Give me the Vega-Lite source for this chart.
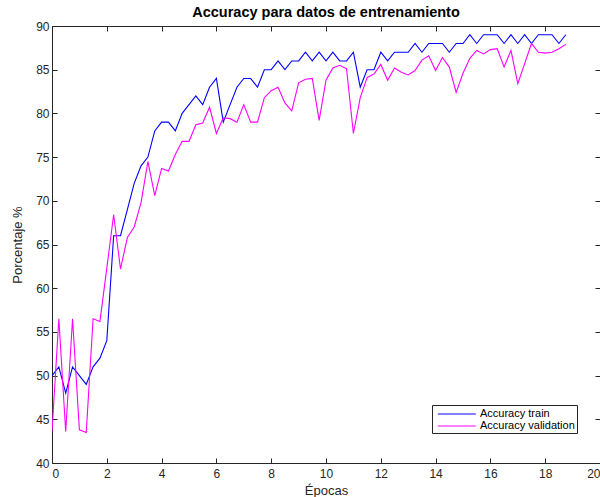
{
  "$schema": "https://vega.github.io/schema/vega-lite/v6.json",
  "width": 548,
  "height": 437,
  "autosize": "none",
  "padding": {"left": 52, "top": 26, "right": 0, "bottom": 34},
  "background": "white",
  "title": {"text": "Accuracy para datos de entrenamiento", "font": "Liberation Sans", "fontSize": 14.5, "fontWeight": "bold", "color": "black", "anchor": "middle", "offset": 0},
  "config": {
    "view": {"stroke": null},
    "axis": {"grid": false, "labelFont": "Liberation Sans", "labelFontSize": 12, "labelColor": "#262626", "titleFont": "Liberation Sans", "titleFontSize": 13, "titleFontWeight": "normal", "titleColor": "#262626", "domainColor": "#262626", "tickColor": "#262626", "tickSize": -5, "domainWidth": 1}
  },
  "data": {"values": [
    {"epoca": 0, "serie": "Accuracy train", "valor": 50},
    {"epoca": 0.25, "serie": "Accuracy train", "valor": 51},
    {"epoca": 0.5, "serie": "Accuracy train", "valor": 48},
    {"epoca": 0.75, "serie": "Accuracy train", "valor": 51},
    {"epoca": 1, "serie": "Accuracy train", "valor": 50},
    {"epoca": 1.25, "serie": "Accuracy train", "valor": 49},
    {"epoca": 1.5, "serie": "Accuracy train", "valor": 51},
    {"epoca": 1.75, "serie": "Accuracy train", "valor": 52},
    {"epoca": 2, "serie": "Accuracy train", "valor": 54},
    {"epoca": 2.25, "serie": "Accuracy train", "valor": 66},
    {"epoca": 2.5, "serie": "Accuracy train", "valor": 66},
    {"epoca": 2.75, "serie": "Accuracy train", "valor": 69},
    {"epoca": 3, "serie": "Accuracy train", "valor": 72},
    {"epoca": 3.25, "serie": "Accuracy train", "valor": 74},
    {"epoca": 3.5, "serie": "Accuracy train", "valor": 75},
    {"epoca": 3.75, "serie": "Accuracy train", "valor": 78},
    {"epoca": 4, "serie": "Accuracy train", "valor": 79},
    {"epoca": 4.25, "serie": "Accuracy train", "valor": 79},
    {"epoca": 4.5, "serie": "Accuracy train", "valor": 78},
    {"epoca": 4.75, "serie": "Accuracy train", "valor": 80},
    {"epoca": 5, "serie": "Accuracy train", "valor": 81},
    {"epoca": 5.25, "serie": "Accuracy train", "valor": 82},
    {"epoca": 5.5, "serie": "Accuracy train", "valor": 81},
    {"epoca": 5.75, "serie": "Accuracy train", "valor": 83},
    {"epoca": 6, "serie": "Accuracy train", "valor": 84},
    {"epoca": 6.25, "serie": "Accuracy train", "valor": 79},
    {"epoca": 6.5, "serie": "Accuracy train", "valor": 81},
    {"epoca": 6.75, "serie": "Accuracy train", "valor": 83},
    {"epoca": 7, "serie": "Accuracy train", "valor": 84},
    {"epoca": 7.25, "serie": "Accuracy train", "valor": 84},
    {"epoca": 7.5, "serie": "Accuracy train", "valor": 83},
    {"epoca": 7.75, "serie": "Accuracy train", "valor": 85},
    {"epoca": 8, "serie": "Accuracy train", "valor": 85},
    {"epoca": 8.25, "serie": "Accuracy train", "valor": 86},
    {"epoca": 8.5, "serie": "Accuracy train", "valor": 85},
    {"epoca": 8.75, "serie": "Accuracy train", "valor": 86},
    {"epoca": 9, "serie": "Accuracy train", "valor": 86},
    {"epoca": 9.25, "serie": "Accuracy train", "valor": 87},
    {"epoca": 9.5, "serie": "Accuracy train", "valor": 86},
    {"epoca": 9.75, "serie": "Accuracy train", "valor": 87},
    {"epoca": 10, "serie": "Accuracy train", "valor": 86},
    {"epoca": 10.25, "serie": "Accuracy train", "valor": 87},
    {"epoca": 10.5, "serie": "Accuracy train", "valor": 86},
    {"epoca": 10.75, "serie": "Accuracy train", "valor": 86},
    {"epoca": 11, "serie": "Accuracy train", "valor": 87},
    {"epoca": 11.25, "serie": "Accuracy train", "valor": 83},
    {"epoca": 11.5, "serie": "Accuracy train", "valor": 85},
    {"epoca": 11.75, "serie": "Accuracy train", "valor": 85},
    {"epoca": 12, "serie": "Accuracy train", "valor": 87},
    {"epoca": 12.25, "serie": "Accuracy train", "valor": 86},
    {"epoca": 12.5, "serie": "Accuracy train", "valor": 87},
    {"epoca": 12.75, "serie": "Accuracy train", "valor": 87},
    {"epoca": 13, "serie": "Accuracy train", "valor": 87},
    {"epoca": 13.25, "serie": "Accuracy train", "valor": 88},
    {"epoca": 13.5, "serie": "Accuracy train", "valor": 87},
    {"epoca": 13.75, "serie": "Accuracy train", "valor": 88},
    {"epoca": 14, "serie": "Accuracy train", "valor": 88},
    {"epoca": 14.25, "serie": "Accuracy train", "valor": 88},
    {"epoca": 14.5, "serie": "Accuracy train", "valor": 87},
    {"epoca": 14.75, "serie": "Accuracy train", "valor": 88},
    {"epoca": 15, "serie": "Accuracy train", "valor": 88},
    {"epoca": 15.25, "serie": "Accuracy train", "valor": 89},
    {"epoca": 15.5, "serie": "Accuracy train", "valor": 88},
    {"epoca": 15.75, "serie": "Accuracy train", "valor": 89},
    {"epoca": 16, "serie": "Accuracy train", "valor": 89},
    {"epoca": 16.25, "serie": "Accuracy train", "valor": 89},
    {"epoca": 16.5, "serie": "Accuracy train", "valor": 88},
    {"epoca": 16.75, "serie": "Accuracy train", "valor": 89},
    {"epoca": 17, "serie": "Accuracy train", "valor": 88},
    {"epoca": 17.25, "serie": "Accuracy train", "valor": 89},
    {"epoca": 17.5, "serie": "Accuracy train", "valor": 88},
    {"epoca": 17.75, "serie": "Accuracy train", "valor": 89},
    {"epoca": 18, "serie": "Accuracy train", "valor": 89},
    {"epoca": 18.25, "serie": "Accuracy train", "valor": 89},
    {"epoca": 18.5, "serie": "Accuracy train", "valor": 88},
    {"epoca": 18.75, "serie": "Accuracy train", "valor": 89},
    {"epoca": 0, "serie": "Accuracy validation", "valor": 43.6},
    {"epoca": 0.25, "serie": "Accuracy validation", "valor": 56.5},
    {"epoca": 0.5, "serie": "Accuracy validation", "valor": 43.6},
    {"epoca": 0.75, "serie": "Accuracy validation", "valor": 56.5},
    {"epoca": 1, "serie": "Accuracy validation", "valor": 43.8},
    {"epoca": 1.25, "serie": "Accuracy validation", "valor": 43.5},
    {"epoca": 1.5, "serie": "Accuracy validation", "valor": 56.5},
    {"epoca": 1.75, "serie": "Accuracy validation", "valor": 56.2},
    {"epoca": 2, "serie": "Accuracy validation", "valor": 62.3},
    {"epoca": 2.25, "serie": "Accuracy validation", "valor": 68.4},
    {"epoca": 2.5, "serie": "Accuracy validation", "valor": 62.2},
    {"epoca": 2.75, "serie": "Accuracy validation", "valor": 65.8},
    {"epoca": 3, "serie": "Accuracy validation", "valor": 67.0},
    {"epoca": 3.25, "serie": "Accuracy validation", "valor": 69.8},
    {"epoca": 3.5, "serie": "Accuracy validation", "valor": 74.5},
    {"epoca": 3.75, "serie": "Accuracy validation", "valor": 70.6},
    {"epoca": 4, "serie": "Accuracy validation", "valor": 73.7},
    {"epoca": 4.25, "serie": "Accuracy validation", "valor": 73.4},
    {"epoca": 4.5, "serie": "Accuracy validation", "valor": 75.3},
    {"epoca": 4.75, "serie": "Accuracy validation", "valor": 76.8},
    {"epoca": 5, "serie": "Accuracy validation", "valor": 76.8},
    {"epoca": 5.25, "serie": "Accuracy validation", "valor": 78.7},
    {"epoca": 5.5, "serie": "Accuracy validation", "valor": 78.9},
    {"epoca": 5.75, "serie": "Accuracy validation", "valor": 80.7},
    {"epoca": 6, "serie": "Accuracy validation", "valor": 77.7},
    {"epoca": 6.25, "serie": "Accuracy validation", "valor": 79.5},
    {"epoca": 6.5, "serie": "Accuracy validation", "valor": 79.4},
    {"epoca": 6.75, "serie": "Accuracy validation", "valor": 79.0},
    {"epoca": 7, "serie": "Accuracy validation", "valor": 81.0},
    {"epoca": 7.25, "serie": "Accuracy validation", "valor": 79.0},
    {"epoca": 7.5, "serie": "Accuracy validation", "valor": 79.0},
    {"epoca": 7.75, "serie": "Accuracy validation", "valor": 81.8},
    {"epoca": 8, "serie": "Accuracy validation", "valor": 82.6},
    {"epoca": 8.25, "serie": "Accuracy validation", "valor": 83.0},
    {"epoca": 8.5, "serie": "Accuracy validation", "valor": 81.2},
    {"epoca": 8.75, "serie": "Accuracy validation", "valor": 80.3},
    {"epoca": 9, "serie": "Accuracy validation", "valor": 83.5},
    {"epoca": 9.25, "serie": "Accuracy validation", "valor": 83.9},
    {"epoca": 9.5, "serie": "Accuracy validation", "valor": 84.0},
    {"epoca": 9.75, "serie": "Accuracy validation", "valor": 79.2},
    {"epoca": 10, "serie": "Accuracy validation", "valor": 83.8},
    {"epoca": 10.25, "serie": "Accuracy validation", "valor": 85.2},
    {"epoca": 10.5, "serie": "Accuracy validation", "valor": 85.5},
    {"epoca": 10.75, "serie": "Accuracy validation", "valor": 85.1},
    {"epoca": 11, "serie": "Accuracy validation", "valor": 77.7},
    {"epoca": 11.25, "serie": "Accuracy validation", "valor": 81.8},
    {"epoca": 11.5, "serie": "Accuracy validation", "valor": 84.1},
    {"epoca": 11.75, "serie": "Accuracy validation", "valor": 84.5},
    {"epoca": 12, "serie": "Accuracy validation", "valor": 85.6},
    {"epoca": 12.25, "serie": "Accuracy validation", "valor": 83.8},
    {"epoca": 12.5, "serie": "Accuracy validation", "valor": 85.2},
    {"epoca": 12.75, "serie": "Accuracy validation", "valor": 84.7},
    {"epoca": 13, "serie": "Accuracy validation", "valor": 84.4},
    {"epoca": 13.25, "serie": "Accuracy validation", "valor": 84.9},
    {"epoca": 13.5, "serie": "Accuracy validation", "valor": 86.1},
    {"epoca": 13.75, "serie": "Accuracy validation", "valor": 86.6},
    {"epoca": 14, "serie": "Accuracy validation", "valor": 84.9},
    {"epoca": 14.25, "serie": "Accuracy validation", "valor": 86.4},
    {"epoca": 14.5, "serie": "Accuracy validation", "valor": 85.3},
    {"epoca": 14.75, "serie": "Accuracy validation", "valor": 82.4},
    {"epoca": 15, "serie": "Accuracy validation", "valor": 84.6},
    {"epoca": 15.25, "serie": "Accuracy validation", "valor": 86.3},
    {"epoca": 15.5, "serie": "Accuracy validation", "valor": 87.2},
    {"epoca": 15.75, "serie": "Accuracy validation", "valor": 86.8},
    {"epoca": 16, "serie": "Accuracy validation", "valor": 87.3},
    {"epoca": 16.25, "serie": "Accuracy validation", "valor": 87.4},
    {"epoca": 16.5, "serie": "Accuracy validation", "valor": 85.3},
    {"epoca": 16.75, "serie": "Accuracy validation", "valor": 87.2},
    {"epoca": 17, "serie": "Accuracy validation", "valor": 83.4},
    {"epoca": 17.25, "serie": "Accuracy validation", "valor": 85.7},
    {"epoca": 17.5, "serie": "Accuracy validation", "valor": 88.0},
    {"epoca": 17.75, "serie": "Accuracy validation", "valor": 87.0},
    {"epoca": 18, "serie": "Accuracy validation", "valor": 86.9},
    {"epoca": 18.25, "serie": "Accuracy validation", "valor": 87.0},
    {"epoca": 18.5, "serie": "Accuracy validation", "valor": 87.4},
    {"epoca": 18.75, "serie": "Accuracy validation", "valor": 87.9}
  ]},
  "layer": [
    {
      "mark": {"type": "line", "strokeWidth": 1.1, "clip": true},
      "encoding": {
        "x": {"field": "epoca", "type": "quantitative", "scale": {"domain": [0, 20], "nice": false}, "axis": {"orient": "bottom", "values": [0, 2, 4, 6, 8, 10, 12, 14, 16, 18, 20], "title": "Épocas", "labelPadding": 10, "titlePadding": 5}},
        "y": {"field": "valor", "type": "quantitative", "scale": {"domain": [40, 90], "nice": false, "zero": false}, "axis": {"orient": "left", "values": [40, 45, 50, 55, 60, 65, 70, 75, 80, 85, 90], "title": "Porcentaje %", "labelPadding": 8, "titlePadding": 11}},
        "color": {"field": "serie", "type": "nominal", "scale": {"domain": ["Accuracy train", "Accuracy validation"], "range": ["#0000FF", "#FF00FF"]},
          "legend": {"orient": "none", "legendX": 380, "legendY": 379, "title": null, "symbolType": "M-0.5,0H5.5", "symbolSize": 160, "symbolStrokeWidth": 1, "labelOffset": 32, "labelFont": "Liberation Sans", "labelFontSize": 11, "labelColor": "black", "strokeColor": "#262626", "fillColor": "white", "padding": 2, "rowPadding": 0, "cornerRadius": 0}}
      }
    },
    {
      "mark": {"type": "line", "strokeOpacity": 0},
      "encoding": {
        "x": {"field": "epoca", "type": "quantitative", "axis": {"orient": "top", "values": [0, 2, 4, 6, 8, 10, 12, 14, 16, 18, 20], "labels": false, "title": null}},
        "y": {"field": "valor", "type": "quantitative", "axis": {"orient": "right", "values": [40, 45, 50, 55, 60, 65, 70, 75, 80, 85, 90], "labels": false, "title": null}}
      }
    }
  ],
  "resolve": {"axis": {"x": "independent", "y": "independent"}}
}
